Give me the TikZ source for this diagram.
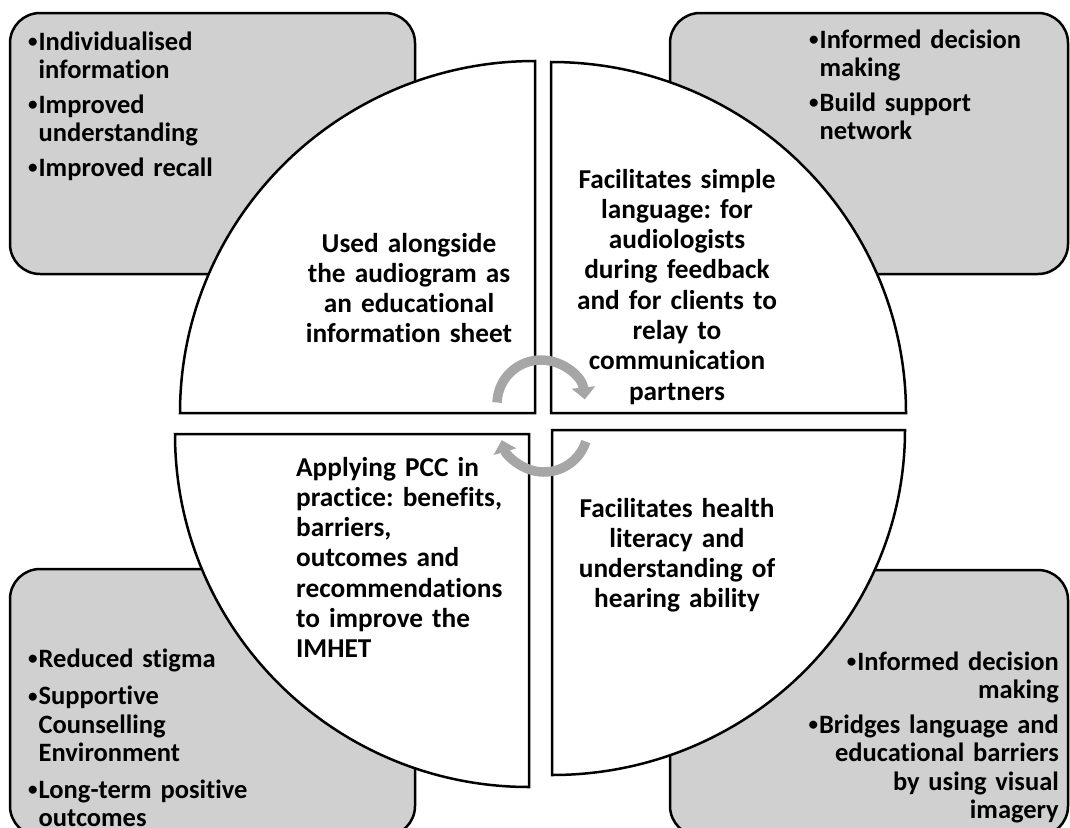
\documentclass[tikz,border=0pt]{standalone}
\usepackage{fontspec}
\setmainfont{Carlito}[Ligatures=NoCommon]
\usetikzlibrary{arrows.meta}

\definecolor{boxgray}{RGB}{208,208,208}
\definecolor{arrowgray}{RGB}{166,166,166}

% small bullet as in the lists
\newcommand{\bul}{\raisebox{2.5pt}{\fontsize{19}{19}\selectfont•}\hspace{1pt}}

\tikzset{
	panel/.style={draw=black, line width=2.5pt, fill=boxgray, rounded corners=30pt, inner sep=0pt},
	sector/.style={draw=black, line width=2.5pt, fill=white},
	turn/.style={draw=arrowgray, line width=9.5pt, -{Triangle[length=12pt, width=23pt]}},
	txt/.style={inner sep=0pt, font=\frenchspacing\fontsize{26.5}{28.5}\selectfont\bfseries},
	big/.style={inner sep=0pt, font=\frenchspacing\fontsize{27.3}{30.3}\selectfont\bfseries},
}

\begin{document}
\begin{tikzpicture}[x=1pt, y=1pt]
	\useasboundingbox (0,0) rectangle (1070,-827);
	\clip (0,0) rectangle (1070,-827);

	% corner boxes
	\node[panel, minimum width=405pt, minimum height=261pt] (P1) at (212.5,-143.5) {};
	\node[panel, minimum width=398pt, minimum height=261pt] (P2) at (869,-143.5) {};
	\node[panel, minimum width=405pt, minimum height=267pt] (P3) at (212.5,-702.5) {};
	\node[panel, minimum width=398pt, minimum height=266pt] (P4) at (869,-703) {};

	% the four quarters
	\draw[sector] (535,-413) -- (180,-413) arc[start angle=180, end angle=90, x radius=355, y radius=352] -- cycle;
	\draw[sector] (551,-413) -- (551,-62) arc[start angle=90, end angle=0, x radius=355, y radius=351] -- cycle;
	\draw[sector] (529,-434) -- (175,-434) arc[start angle=180, end angle=270, x radius=354, y radius=353] -- cycle;
	\draw[sector] (552,-430) -- (905,-430) arc[start angle=0, end angle=-90, x radius=353, y radius=345] -- cycle;

	% turning arrows
	\draw[turn] (541,-404) ++(178:44) arc[start angle=178, end angle=6, radius=44];
	\draw[turn] (544,-428) ++(-18:44) arc[start angle=-18, end angle=-164, radius=44];

	% texts in the quarters
	\node[big, text width=270pt, align=center, anchor=base] (Q1) at (409,-252)
		{Used alongside\\ the audiogram as\\ an educational\\ information sheet};
	\node[big, text width=270pt, align=center, anchor=base] (Q2) at (677,-188)
		{Facilitates simple\\ language: for\\ audiologists\\ during feedback\\ and for clients to\\ relay to\\ communication\\ partners};
	\node[big, text width=270pt, align=left, anchor=base west] (Q3) at (296,-476)
		{Applying PCC in\\ practice: benefits,\\ barriers,\\ outcomes and\\ recommendations\\ to improve the\\ IMHET};
	\node[big, text width=270pt, align=center, anchor=base] (Q4) at (677,-517)
		{Facilitates health\\ literacy and\\ understanding of\\ hearing ability};

	% bullet lists in the boxes
	\node[txt, text width=300pt, align=left, anchor=base west] (L1) at (28,-50)
		{\bul Individualised\\ \phantom{\bul}information\\[6pt] \bul Improved\\ \phantom{\bul}understanding\\[6pt] \bul Improved recall};
	\node[txt, text width=240pt, align=left, anchor=base west] (L2) at (809,-48)
		{\bul Informed decision\\ \phantom{\bul}making\\[6pt] \bul Build support\\ \phantom{\bul}network};
	\node[txt, text width=300pt, align=left, anchor=base west] (L3) at (28,-667)
		{\bul Reduced stigma\\[9pt] \bul Supportive\\ \phantom{\bul}Counselling\\ \phantom{\bul}Environment\\[8pt] \bul Long-term positive\\ \phantom{\bul}outcomes};
	\node[txt, text width=300pt, align=right, anchor=base east] (L4) at (1059,-670)
		{\bul Informed decision\\ making\\[6pt] \bul Bridges language and\\ educational barriers\\ by using visual\\ imagery};
\end{tikzpicture}
\end{document}
